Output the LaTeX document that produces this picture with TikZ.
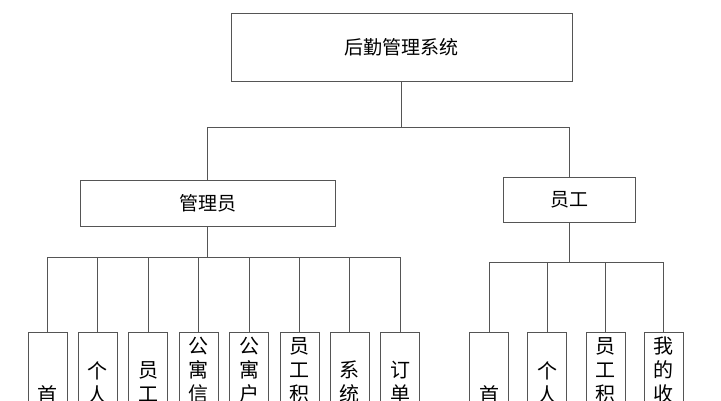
\documentclass[tikz,border=0pt]{standalone}
\usepackage{fontspec}
\setmainfont{Noto Sans CJK SC}
\usetikzlibrary{positioning}
\definecolor{linegray}{HTML}{555555}

\begin{document}
\begin{tikzpicture}[x=1pt,y=-1pt,
  every node/.style={font=\fontsize{19}{22}\selectfont},
  box/.style={draw=linegray,line width=0.9pt,inner sep=0pt},
  leafbox/.style={box,minimum width=39pt,minimum height=150pt,anchor=north},
  leaftext/.style={anchor=north,inner sep=0pt,align=center,font=\fontsize{20}{24}\selectfont},
  link/.style={draw=linegray,line width=0.9pt}]
  \useasboundingbox (0,0) rectangle (721,400);
  \clip (0,0) rectangle (721,400);
  % upper levels
  \node[box,minimum width=341pt,minimum height=68pt] (root) at (401.5,47) {后勤管理系统};
  \node[box,minimum width=255pt,minimum height=46pt] (admin) at (207.5,203) {管理员};
  \node[box,minimum width=132pt,minimum height=45pt] (staff) at (569,199.5) {员工};
  \coordinate (bus) at (0,127);
  \draw[link] (root) -- (root |- bus);
  \draw[link] (admin.north) -- (admin.north |- bus) -- (staff.north |- bus) -- (staff.north);
  % admin leaves
  \foreach \i/\txt/\off in {1/首/53, 2/个\\人/29, 3/员\\工/29, 4/公\\寓\\信/5,
      5/公\\寓\\户/5, 6/员\\工\\积/5, 7/系\\统/29, 8/订\\单/29} {
    \node[leafbox] (a\i) at ({47.5+50.4*(\i-1)},332) {};
    \node[leaftext,below=\off pt of a\i.north] (at\i) {\txt};
  }
  \coordinate (abus) at (0,257);
  \draw[link] (admin.south) -- (admin.south |- abus);
  \draw[link] (a1.north) |- (a8.north |- abus) -- (a8.north);
  \foreach \i in {2,...,7} \draw[link] (a\i.north) -- (a\i.north |- abus);
  % staff leaves
  \foreach \i/\txt/\off in {1/首/53, 2/个\\人/29, 3/员\\工\\积/5, 4/我\\的\\收/5} {
    \node[leafbox] (s\i) at ({489+58.3*(\i-1)},332) {};
    \node[leaftext,below=\off pt of s\i.north] (st\i) {\txt};
  }
  \coordinate (sbus) at (0,262);
  \draw[link] (staff.south) -- (staff.south |- sbus);
  \draw[link] (s1.north) |- (s4.north |- sbus) -- (s4.north);
  \foreach \i in {2,3} \draw[link] (s\i.north) -- (s\i.north |- sbus);
\end{tikzpicture}
\end{document}
